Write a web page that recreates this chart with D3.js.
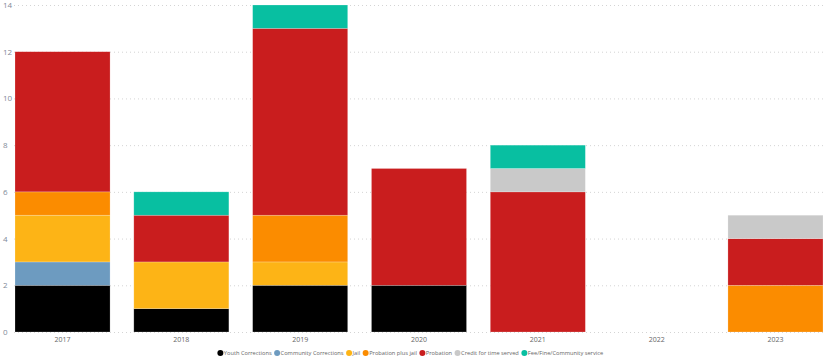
<!DOCTYPE html>
<html>
<head>
<meta charset="utf-8">
<script src="https://cdn.jsdelivr.net/npm/d3@7"></script>
<style>
  body { margin: 0; background: #fff; }
  svg { font-family: "Segoe UI", "Open Sans", sans-serif; }
</style>
</head>
<body>
<svg width="823" height="360"></svg>
<script>
// chart data
var years = ["2017", "2018", "2019", "2020", "2021", "2022", "2023"];
var seriesNames = ["Youth Corrections", "Community Corrections", "Jail", "Probation plus jail", "Probation", "Credit for time served", "Fee/Fine/Community service"];
var youth     = [2, 1, 2, 2, 0, 0, 0];
var community = [1, 0, 0, 0, 0, 0, 0];
var jail      = [2, 2, 1, 0, 0, 0, 0];
var probJail  = [1, 0, 2, 0, 0, 0, 2];
var probation = [6, 2, 8, 5, 6, 0, 2];
var credit    = [0, 0, 0, 0, 1, 0, 1];
var fee       = [0, 1, 1, 0, 1, 0, 0];
var yTicks = [0, 2, 4, 6, 8, 10, 12, 14];

var colors = ["#000000", "#6d9bc0", "#fdb416", "#fb8c00", "#c91d1e", "#c9c9c9", "#08bfa1"];
var seriesVals = [youth, community, jail, probJail, probation, credit, fee];

var rows = years.map(function(y, i) {
  var r = { year: y };
  seriesNames.forEach(function(s, k) { r[s] = seriesVals[k][i]; });
  return r;
});

var svg = d3.select("svg");

var x = d3.scaleBand().domain(years).range([15, 823]).paddingInner(0.2).paddingOuter(0);
var y = d3.scaleLinear().domain([0, 14]).range([332, 5]);

// gridlines
svg.append("g")
  .selectAll("line")
  .data(yTicks)
  .enter().append("line")
    .attr("x1", 14).attr("x2", 823)
    .attr("y1", function(d) { return y(d) + 0.5; })
    .attr("y2", function(d) { return y(d) + 0.5; })
    .attr("stroke", "#d4d4d4")
    .attr("stroke-width", 1)
    .attr("stroke-dasharray", "1,3");

// y tick labels
svg.append("g")
  .selectAll("text")
  .data(yTicks)
  .enter().append("text")
    .attr("x", 3)
    .attr("y", function(d) { return y(d) + 3; })
    .attr("font-size", 8)
    .attr("fill", "#7f8a99")
    .text(function(d) { return d; });

var stacked = d3.stack().keys(seriesNames)(rows);

svg.append("g")
  .selectAll("g")
  .data(stacked)
  .enter().append("g")
    .attr("fill", function(d, i) { return colors[i]; })
  .selectAll("rect")
  .data(function(d) { return d.filter(function(s) { return s[1] > s[0]; }); })
  .enter().append("rect")
    .attr("x", function(d) { return x(d.data.year); })
    .attr("width", x.bandwidth())
    .attr("y", function(d) { return y(d[1]); })
    .attr("height", function(d) { return y(d[0]) - y(d[1]); })
    .attr("stroke", "rgba(255,255,255,0.35)")
    .attr("stroke-width", 0.6);

// x labels
svg.append("g")
  .selectAll("text")
  .data(years)
  .enter().append("text")
    .attr("x", function(d) { return x(d) + x.bandwidth() / 2; })
    .attr("y", 342)
    .attr("text-anchor", "middle")
    .attr("font-size", 7)
    .attr("fill", "#666")
    .text(function(d) { return d; });

// legend
var legend = svg.append("g");
var lx = 0;
var items = legend.selectAll("g")
  .data(seriesNames)
  .enter().append("g");
items.append("circle")
  .attr("r", 3)
  .attr("cy", 0)
  .attr("fill", function(d, i) { return colors[i]; });
items.append("text")
  .attr("x", 3.5)
  .attr("y", 2)
  .attr("font-size", 5.7)
  .attr("fill", "#666")
  .text(function(d) { return d; });
items.each(function() {
  var w = this.querySelector("text").getComputedTextLength();
  d3.select(this).attr("transform", "translate(" + (lx + 3) + ",0)");
  lx += w + 9;
});
legend.attr("transform", "translate(" + ((823 - lx) / 2) + ",353)");
</script>
</body>
</html>
